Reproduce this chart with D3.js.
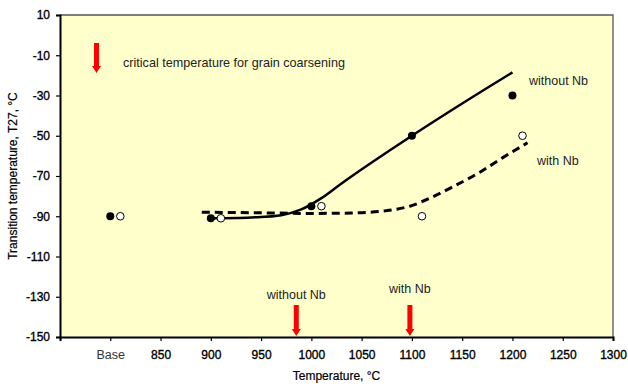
<!DOCTYPE html>
<html>
<head>
<meta charset="utf-8">
<script src="https://cdn.jsdelivr.net/npm/d3@7"></script>
<style>
  body { margin: 0; background: #fff; }
  svg { display: block; font-family: "Liberation Sans", Arial, sans-serif; }
</style>
</head>
<body>
<svg id="chart" width="628" height="384"></svg>
<script>
// ---- data ----
const xTickValues = [750, 800, 850, 900, 950, 1000, 1050, 1100, 1150, 1200, 1250, 1300];
const xTickLabels = ["", "Base", "850", "900", "950", "1000", "1050", "1100", "1150", "1200", "1250", "1300"];
const yTickValues = [10, -10, -30, -50, -70, -90, -110, -130, -150];

const withoutNbX = [800, 900, 1000, 1100, 1200];
const withoutNbY = [-90, -91, -85, -50, -30];
const withNbX = [810, 910, 1010, 1110, 1210];
const withNbY = [-90, -91, -85, -90, -50];

const trendWithoutX = [897, 940, 970, 990, 1010, 1030, 1060, 1100, 1150, 1200];
const trendWithoutY = [-91, -90.6, -89.5, -86.6, -81, -73.7, -63.3, -50, -34, -18.5];
const trendWithX = [891, 950, 1000, 1040, 1075, 1098, 1118, 1141, 1168, 1190, 1215];
const trendWithY = [-88, -88.3, -88.6, -88.4, -87.2, -85, -81, -75.3, -68, -61, -53.5];

const criticalLabels = ["without Nb", "with Nb"];
const criticalTemps = [985, 1098];
const seriesLabels = ["without Nb", "with Nb"];
const legendText = "critical temperature for grain coarsening";

// ---- layout ----
const svg = d3.select("#chart");
const L = 60, T = 15, R = 613, B = 337;
const x = d3.scaleLinear().domain([750, 1300]).range([L, R]);
const y = d3.scaleLinear().domain([-150, 10]).range([B, T]);

// plot background
svg.append("rect").attr("x", L).attr("y", T).attr("width", R - L).attr("height", B - T)
  .attr("fill", "#FFFFCC");
// top/right frame
svg.append("path").attr("d", `M${L},${T}H${R}V${B}`).attr("fill", "none")
  .attr("stroke", "#555").attr("stroke-width", 1.3);

function styleTickText(sel) {
  sel.attr("font-size", 12).attr("fill", "#000")
    .attr("stroke", "#000").attr("stroke-width", 0.35)
    .attr("font-family", "'Liberation Sans', Arial, sans-serif");
}

// axes
const xAxis = d3.axisBottom(x).tickValues(xTickValues)
  .tickFormat((d, i) => xTickLabels[i]).tickSizeOuter(0).tickSize(4).tickPadding(9);
const gx = svg.append("g").attr("transform", `translate(0,${B})`).call(xAxis);
gx.select(".domain").attr("stroke", "#000").attr("stroke-width", 2);
gx.selectAll(".tick line").attr("stroke", "#000").attr("stroke-width", 1.2);
styleTickText(gx.selectAll(".tick text"));
gx.selectAll(".tick text").filter((d, i) => xTickLabels[i] === "Base")
  .attr("fill", "#333").attr("stroke", "none").attr("font-size", 12.5);

const yAxis = d3.axisLeft(y).tickValues(yTickValues).tickFormat(d => String(d))
  .tickSizeOuter(0).tickSize(4).tickPadding(6);
const gy = svg.append("g").attr("transform", `translate(${L},0)`).call(yAxis);
gy.select(".domain").attr("stroke", "#000").attr("stroke-width", 2);
gy.selectAll(".tick line").attr("stroke", "#000").attr("stroke-width", 1.2);
styleTickText(gy.selectAll(".tick text"));

// axis titles
svg.append("text").attr("x", (L + R) / 2).attr("y", 380).attr("text-anchor", "middle")
  .attr("font-size", 12).attr("fill", "#000").attr("stroke", "#000").attr("stroke-width", 0.2)
  .text("Temperature, °C");
svg.append("text").attr("transform", `translate(17,${(T + B) / 2}) rotate(-90)`)
  .attr("text-anchor", "middle").attr("font-size", 12).attr("fill", "#000")
  .attr("stroke", "#000").attr("stroke-width", 0.2)
  .text("Transition temperature, T27, °C");

// trend lines
const lineSolid = d3.line().x(d => x(d[0])).y(d => y(d[1])).curve(d3.curveCatmullRom.alpha(0.5));
const lineDash = d3.line().x(d => x(d[0])).y(d => y(d[1])).curve(d3.curveMonotoneX);
svg.append("path").datum(trendWithoutX.map((v, i) => [v, trendWithoutY[i]]))
  .attr("d", lineSolid).attr("fill", "none").attr("stroke", "#000").attr("stroke-width", 2.5);
svg.append("path").datum(trendWithX.map((v, i) => [v, trendWithY[i]]))
  .attr("d", lineDash).attr("fill", "none").attr("stroke", "#000").attr("stroke-width", 3)
  .attr("stroke-dasharray", "8,5");

// points
svg.append("g").selectAll("circle").data(withoutNbX.map((v, i) => [v, withoutNbY[i]]))
  .join("circle").attr("cx", d => x(d[0])).attr("cy", d => y(d[1])).attr("r", 4)
  .attr("fill", "#000");
svg.append("g").selectAll("circle").data(withNbX.map((v, i) => [v, withNbY[i]]))
  .join("circle").attr("cx", d => x(d[0])).attr("cy", d => y(d[1])).attr("r", 3.8)
  .attr("fill", "#fff").attr("stroke", "#000").attr("stroke-width", 1);

// series labels
svg.append("text").attr("x", 529).attr("y", 85).attr("font-size", 12.5).attr("fill", "#222")
  .text(seriesLabels[0]);
svg.append("text").attr("x", 537).attr("y", 165).attr("font-size", 12.5).attr("fill", "#222")
  .text(seriesLabels[1]);

// red arrows
function arrow(cx, y0, y1) {
  const hw = 4.5, sw = 2.5, hl = 7;
  const p = d3.path();
  p.moveTo(cx - sw, y0); p.lineTo(cx + sw, y0); p.lineTo(cx + sw, y1 - hl);
  p.lineTo(cx + hw, y1 - hl); p.lineTo(cx, y1); p.lineTo(cx - hw, y1 - hl);
  p.lineTo(cx - sw, y1 - hl); p.closePath();
  svg.append("path").attr("d", p.toString()).attr("fill", "#FF0000");
}
// legend arrow
arrow(96.5, 43, 73);
svg.append("text").attr("x", 123).attr("y", 67).attr("font-size", 12.6).attr("fill", "#222")
  .text(legendText);

criticalTemps.forEach((t, i) => {
  arrow(x(t), 305, B - 1);
  svg.append("text").attr("x", x(t)).attr("y", i === 0 ? 299 : 293)
    .attr("text-anchor", "middle").attr("font-size", 12.5).attr("fill", "#222")
    .text(criticalLabels[i]);
});
</script>
</body>
</html>
